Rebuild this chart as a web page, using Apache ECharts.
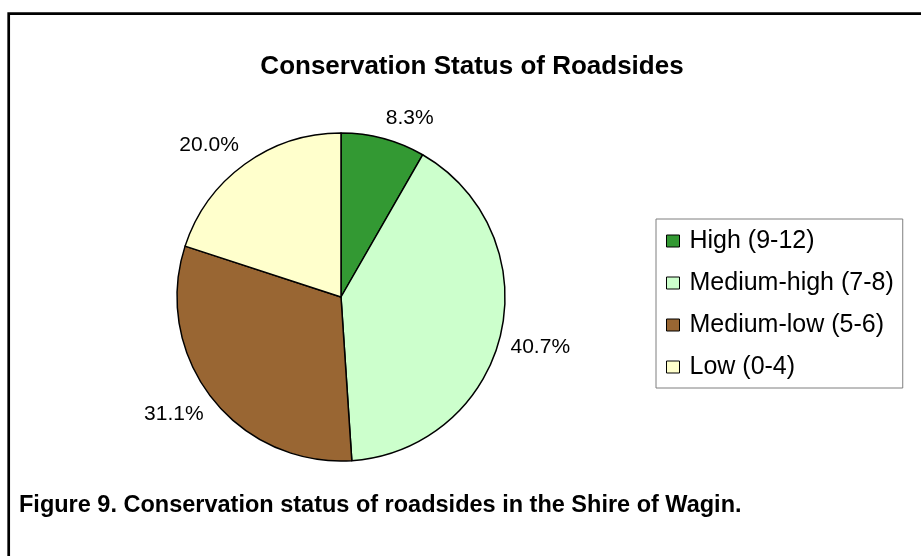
<!DOCTYPE html>
<html>
<head>
<meta charset="utf-8">
<script src="https://cdn.jsdelivr.net/npm/echarts@6/dist/echarts.min.js"></script>
<style>
  html, body { margin: 0; padding: 0; background: #fff; }
  #chart { width: 921px; height: 556px; }
</style>
</head>
<body>
<div id="chart"></div>
<script>
// conservation classes and their share of roadsides (%)
var categories = ['High (9-12)', 'Medium-high (7-8)', 'Medium-low (5-6)', 'Low (0-4)']
var shares = [8.3, 40.7, 31.1, 20.0]
var sliceColors = ['#339933', '#ccffcc', '#996633', '#ffffcc']

var cx = 341
var cy = 297
var radius = 164

var total = shares.reduce(function (a, b) { return a + b }, 0)
// mid angle of every slice, degrees, counted clockwise from 12 o'clock
var midAngles = []
var acc = 0
shares.forEach(function (v) {
  midAngles.push(90 - (acc + v / 2) / total * 360)
  acc += v
})

var chart = echarts.init(document.getElementById('chart'))

var options = {
  animation: false,
  title: {
    text: 'Conservation Status of Roadsides',
    left: 472,
    top: 54,
    padding: 0,
    textAlign: 'center',
    textStyle: {
      fontFamily: 'Liberation Sans, Arial, sans-serif',
      fontWeight: 'bold',
      fontSize: 26,
      color: '#000'
    }
  },
  legend: {
    orient: 'vertical',
    left: 656,
    top: 219,
    padding: [9, 9, 8, 10],
    itemGap: 16,
    itemWidth: 13,
    itemHeight: 12,
    icon: 'rect',
    borderColor: '#7f7f7f',
    borderWidth: 1,
    itemStyle: {
      borderColor: '#000',
      borderWidth: 1
    },
    textStyle: {
      fontFamily: 'Liberation Sans, Arial, sans-serif',
      fontSize: 25,
      lineHeight: 26,
      color: '#000',
      padding: [0, 0, 0, 5]
    },
    data: categories
  },
  graphic: [
    {
      // frame: only the top and left edges fall inside the picture
      type: 'rect',
      shape: { x: 8.7, y: 13.7, width: 1000, height: 1000 },
      style: { fill: 'none', stroke: '#000', lineWidth: 2.7 }
    },
    {
      type: 'text',
      left: 19,
      top: 494,
      style: {
        text: 'Figure 9. Conservation status of roadsides in the Shire of Wagin.',
        font: 'bold 23.5px Liberation Sans, Arial, sans-serif',
        fill: '#000'
      }
    }
  ],
  series: [
    {
      type: 'pie',
      center: [cx, cy],
      radius: radius,
      startAngle: 90,
      clockwise: true,
      avoidLabelOverlap: false,
      itemStyle: {
        borderColor: '#000',
        borderWidth: 1.5
      },
      label: {
        show: true,
        position: 'outside',
        formatter: function (p) { return p.value.toFixed(1) + '%' },
        fontFamily: 'Liberation Sans, Arial, sans-serif',
        fontSize: 21,
        color: '#000'
      },
      labelLine: { show: false },
      // put the label corner nearest the pie on the slice's mid ray
      labelLayout: function (params) {
        var a = midAngles[params.dataIndex] * Math.PI / 180
        var ux = Math.cos(a)
        var uy = -Math.sin(a)
        var d = radius + 10
        return {
          x: cx + d * ux,
          y: cy + d * uy,
          align: ux >= 0 ? 'left' : 'right',
          verticalAlign: uy >= 0 ? 'top' : 'bottom'
        }
      },
      emphasis: { disabled: true },
      data: categories.map(function (name, i) {
        return { name: name, value: shares[i], itemStyle: { color: sliceColors[i] } }
      })
    }
  ]
}

chart.setOption(options)
</script>
</body>
</html>
